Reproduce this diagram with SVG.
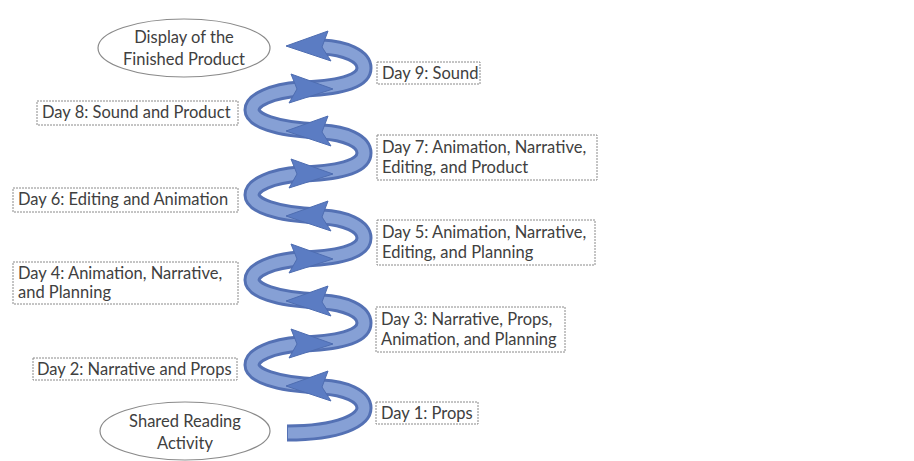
<svg xmlns="http://www.w3.org/2000/svg" width="914" height="461" viewBox="0 0 914 461">
<style>
.box{fill:#fff;stroke:#8a8a8a;stroke-width:1;stroke-dasharray:2 1}
.ell{fill:#fff;stroke:#8a8a8a;stroke-width:1.2}
.t{font-family:"Lato","Liberation Sans",sans-serif;font-size:16.5px;fill:#404040}
.tc{text-anchor:middle}
.ro{fill:none;stroke:#5471b4;stroke-width:17}
.ri{fill:none;stroke:#86a0d5;stroke-width:11}
.ah{fill:#5b7cc3;stroke:#4e6db1;stroke-width:1;stroke-linejoin:round}
</style>
<rect width="914" height="461" fill="#fff"/>
<g id="connectors">
  <g id="ribbons-outer" class="ro">
    <path d="M287,433 C340,433 364,420 364,408 C364,396 345,388 322,387"/>
    <path d="M318,386 C275,384 252,375 252,365 C252,355 272,346 300,344"/>
    <path d="M305,344 C345,342 364,335 364,323 C364,311 345,303 322,302"/>
    <path d="M318,301 C275,299 252,290 252,280 C252,270 272,261 300,259"/>
    <path d="M305,259 C345,257 364,250 364,238 C364,226 345,218 322,217"/>
    <path d="M318,216 C275,214 252,205 252,195 C252,185 272,176 300,174"/>
    <path d="M305,174 C345,172 364,165 364,153 C364,141 345,133 322,132"/>
    <path d="M318,131 C275,129 252,120 252,110 C252,100 272,91 300,89"/>
    <path d="M305,89 C345,87 364,80 364,68 C364,56 345,48 322,47"/>
  </g>
  <g id="ribbons-inner" class="ri">
    <path d="M288,433 C340,433 364,420 364,408 C364,396 345,388 322,387"/>
    <path d="M318,386 C275,384 252,375 252,365 C252,355 272,346 300,344"/>
    <path d="M305,344 C345,342 364,335 364,323 C364,311 345,303 322,302"/>
    <path d="M318,301 C275,299 252,290 252,280 C252,270 272,261 300,259"/>
    <path d="M305,259 C345,257 364,250 364,238 C364,226 345,218 322,217"/>
    <path d="M318,216 C275,214 252,205 252,195 C252,185 272,176 300,174"/>
    <path d="M305,174 C345,172 364,165 364,153 C364,141 345,133 322,132"/>
    <path d="M318,131 C275,129 252,120 252,110 C252,100 272,91 300,89"/>
    <path d="M305,89 C345,87 364,80 364,68 C364,56 345,48 322,47"/>
  </g>
  <g id="arrowheads" class="ah">
    <polygon points="286,386 328,371 322,387 331,401"/>
    <polygon points="333,344 291,329 297,344 289,358"/>
    <polygon points="286,301 328,286 322,302 331,316"/>
    <polygon points="333,259 291,244 297,259 289,273"/>
    <polygon points="286,216 328,201 322,217 331,231"/>
    <polygon points="333,174 291,159 297,174 289,188"/>
    <polygon points="286,131 328,116 322,132 331,146"/>
    <polygon points="333,89 291,74 297,89 289,103"/>
    <polygon points="286,46 328,31 322,47 331,61"/>
  </g>
</g>
<g id="display">
  <ellipse class="ell" cx="184" cy="48" rx="86" ry="29"/>
  <text class="t tc" x="184" y="43">Display of the</text>
  <text class="t tc" x="184" y="65">Finished Product</text>
</g>
<g id="day9">
  <rect class="box" x="377" y="62" width="103" height="22"/>
  <text class="t" x="382" y="79">Day 9: Sound</text>
</g>
<g id="day8">
  <rect class="box" x="37" y="101" width="201" height="24"/>
  <text class="t" x="42" y="118">Day 8: Sound and Product</text>
</g>
<g id="day7">
  <rect class="box" x="377" y="135" width="220" height="45"/>
  <text class="t" x="382" y="153">Day 7: Animation, Narrative,</text>
  <text class="t" x="382" y="173">Editing, and Product</text>
</g>
<g id="day6">
  <rect class="box" x="13" y="188" width="225" height="24"/>
  <text class="t" x="18" y="205">Day 6: Editing and Animation</text>
</g>
<g id="day5">
  <rect class="box" x="377" y="220" width="218" height="45"/>
  <text class="t" x="382" y="238">Day 5: Animation, Narrative,</text>
  <text class="t" x="382" y="258">Editing, and Planning</text>
</g>
<g id="day4">
  <rect class="box" x="13" y="262" width="225" height="42"/>
  <text class="t" x="18" y="279">Day 4: Animation, Narrative,</text>
  <text class="t" x="18" y="298">and Planning</text>
</g>
<g id="day3">
  <rect class="box" x="376" y="307" width="189" height="45"/>
  <text class="t" x="381" y="325">Day 3: Narrative, Props,</text>
  <text class="t" x="381" y="345">Animation, and Planning</text>
</g>
<g id="day2">
  <rect class="box" x="33" y="358" width="204" height="22"/>
  <text class="t" x="37" y="375">Day 2: Narrative and Props</text>
</g>
<g id="day1">
  <rect class="box" x="376" y="402" width="102" height="22"/>
  <text class="t" x="381" y="419">Day 1: Props</text>
</g>
<g id="shared">
  <ellipse class="ell" cx="185" cy="431" rx="85" ry="29"/>
  <text class="t tc" x="185" y="427">Shared Reading</text>
  <text class="t tc" x="185" y="449">Activity</text>
</g>
</svg>
